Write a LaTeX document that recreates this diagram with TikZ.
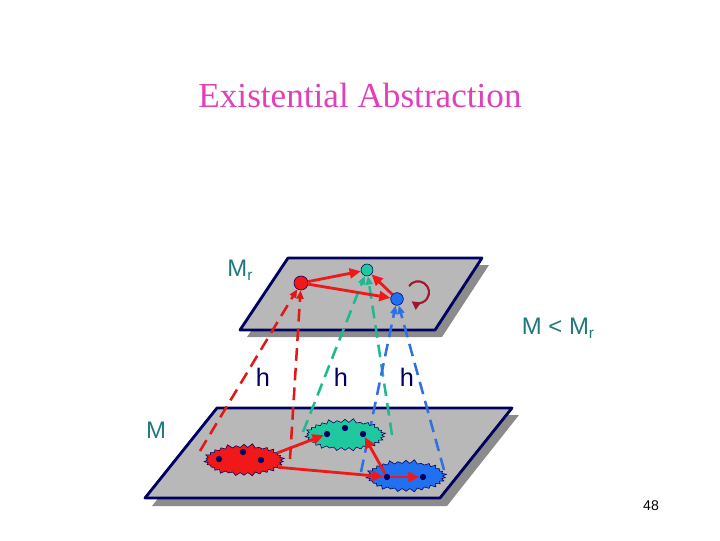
\documentclass[tikz,border=0pt]{standalone}
\usepackage{fontspec}
\setmainfont{Liberation Serif}
\newfontfamily\labfont{Liberation Sans}
\usetikzlibrary{shapes.symbols,arrows.meta}
\definecolor{navy}{HTML}{000060}
\definecolor{planegray}{HTML}{B8B8B8}
\definecolor{shadowgray}{HTML}{8C8C8C}
\definecolor{myred}{HTML}{F01818}
\definecolor{mygreen}{HTML}{20C8A0}
\definecolor{myblue}{HTML}{2070F0}
\definecolor{hred}{HTML}{E01818}
\definecolor{hgreen}{HTML}{20B890}
\definecolor{hblue}{HTML}{3070E0}
\definecolor{loopred}{HTML}{A01830}
\definecolor{labteal}{HTML}{207878}
\definecolor{titlepink}{HTML}{E040B8}
\tikzset{
  plane/.style={draw=navy,line width=2pt,fill=planegray,line join=round},
  planeshadow/.style={fill=shadowgray},
  state/.style={circle,draw=navy,thin,inner sep=0pt},
  blob/.style={starburst,starburst points=30,starburst point height=3pt,
    draw=navy,thin,inner sep=0pt,minimum width=58pt,minimum height=24pt},
  dot/.style={circle,fill=navy,inner sep=0pt,minimum size=4.5pt},
  trans/.style={myred,line width=2pt,-{Triangle[length=8pt,width=7pt]}},
  hmap/.style={line width=1.8pt,dash pattern=on 9pt off 5pt,
    -{Triangle[length=6pt,width=5pt]}},
  lab/.style={font=\labfont\fontsize{17}{19}\selectfont}
}
\begin{document}
\begin{tikzpicture}[x=0.025cm,y=-0.025cm]
  \useasboundingbox (0,0) rectangle (720,540);
  \node[titlepink,font=\fontsize{25}{30}\selectfont] (title) at (360,95) {Existential Abstraction};

  \fill[planeshadow] (224,415) -- (519,415) -- (447,506) -- (152,506) -- cycle;
  \draw[plane] (217,408) -- (512,408) -- (440,498) -- (145,498) -- cycle;
  \fill[planeshadow] (295,265) -- (489,265) -- (442,337) -- (247,337) -- cycle;
  \draw[plane] (288,258) -- (482,258) -- (435,330) -- (240,330) -- cycle;

  \node[state,fill=myred,minimum size=10pt] (rs) at (301,283) {};
  \node[state,fill=mygreen,minimum size=8.5pt] (gs) at (367,270) {};
  \node[state,fill=myblue,minimum size=9pt] (bs) at (397,299) {};

  \coordinate (r1end) at (200,451);
  \coordinate (r2end) at (290,459);
  \coordinate (g1end) at (303,432);
  \coordinate (g2end) at (392,435);
  \coordinate (b1end) at (361,472);
  \coordinate (b2end) at (444,470);
  \draw[hmap,hred] (r1end) -- (rs);
  \draw[hmap,hred] (r2end) -- (rs);
  \draw[hmap,hgreen] (g1end) -- (gs);
  \draw[hmap,hgreen] (g2end) -- (gs);
  \draw[hmap,hblue] (b1end) -- (bs);
  \draw[hmap,hblue] (b2end) -- (bs);

  \node[blob,fill=myred] (rb) at (244,460) {};
  \node[blob,fill=mygreen] (gb) at (345,435) {};
  \node[blob,fill=myblue] (bb) at (406,476) {};
  \node[dot] (r1) at (219,459) {};
  \node[dot] (r2) at (243,452) {};
  \node[dot] (r3) at (261,460) {};
  \node[dot] (g1) at (327,434) {};
  \node[dot] (g2) at (345,428) {};
  \node[dot] (g3) at (363,434) {};
  \node[dot] (b1) at (387,477) {};
  \node[dot] (b2) at (423,477) {};

  \draw[trans] (rs) -- (gs);
  \draw[trans] (rs) -- (bs);
  \draw[trans] (bs) -- (gs);
  \coordinate (loopstart) at (409,286);
  \draw[loopred,line width=1.5pt,-{Triangle[length=6pt,width=6pt]}]
    (loopstart) arc[start angle=-145,end angle=126,radius=11];

  \draw[trans] (rb.12) -- (g1);
  \draw[trans] (rb.-12) -- (b1);
  \draw[trans] (b1) -- (g3);
  \draw[trans] (b1) -- (b2);

  \node[lab,labteal] (mrlabel) at (240,270) {M\raisebox{-0.3ex}{\fontsize{11}{11}\selectfont r}};
  \node[lab,labteal] (order) at (558,328) {M < M\raisebox{-0.3ex}{\fontsize{11}{11}\selectfont r}};
  \node[lab,labteal] (mlabel) at (156,430) {M};
  \node[lab,navy,font=\labfont\fontsize{18}{20}\selectfont] (h1) at (263,377) {h};
  \node[lab,navy,font=\labfont\fontsize{18}{20}\selectfont] (h2) at (341,377) {h};
  \node[lab,navy,font=\labfont\fontsize{18}{20}\selectfont] (h3) at (407,377) {h};
  \node[font=\labfont\fontsize{10}{12}\selectfont] (page) at (651,506) {48};
\end{tikzpicture}
\end{document}
